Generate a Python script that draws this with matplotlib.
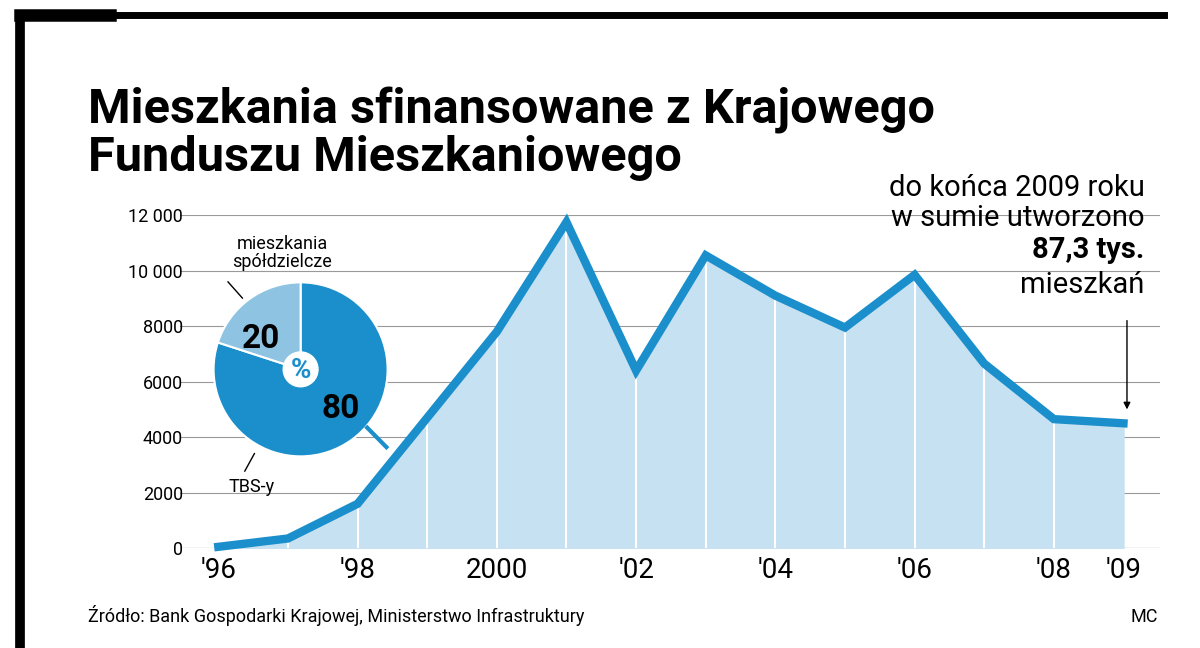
import matplotlib.pyplot as plt
from matplotlib.lines import Line2D

years = [1996, 1997, 1998, 1999, 2000, 2001, 2002, 2003, 2004, 2005, 2006, 2007, 2008, 2009]
flats = [50, 350, 1600, 4700, 7800, 11750, 6400, 10550, 9100, 7950, 9850, 6650, 4650, 4500]
tick_pos = [1996, 1998, 2000, 2002, 2004, 2006, 2008, 2009]
tick_lab = ["'96", "'98", "2000", "'02", "'04", "'06", "'08", "'09"]
y_ticks = [0, 2000, 4000, 6000, 8000, 10000, 12000]
y_labels = ["0", "2000", "4000", "6000", "8000", "10 000", "12 000"]
pie_vals = [80, 20]

LINE = "#1b8fcc"
FILL = "#c6e1f1"
DARK = "#1b8fcc"
LIGHT = "#8ec3e1"

fig = plt.figure(figsize=(12, 6.48), dpi=100)
fig.patch.set_facecolor("white")

# frame lines
fig.add_artist(Line2D([0.017, 0.97], [0.977, 0.977], color="black", lw=5))
fig.add_artist(Line2D([0.017, 0.092], [0.977, 0.977], color="black", lw=9))
fig.add_artist(Line2D([0.017, 0.017], [0.0, 0.977], color="black", lw=7))

fig.text(0.073, 0.72, "Mieszkania sfinansowane z Krajowego\nFunduszu Mieszkaniowego",
         fontsize=35, fontweight="heavy", family="Roboto",
         linespacing=1.05, va="bottom", ha="left")

ax = fig.add_axes([0.15, 0.154, 0.817, 0.514])
ax.set_xlim(1995.45, 2009.53)
ax.set_ylim(0, 12000)
for s in ax.spines.values():
    s.set_visible(False)
ax.set_yticks(y_ticks)
ax.set_yticklabels(y_labels, fontsize=13, family="Roboto")
ax.tick_params(axis="y", length=0, pad=-2)
ax.set_xticks(tick_pos)
ax.set_xticklabels(tick_lab, fontsize=20, family="Roboto")
ax.tick_params(axis="x", length=0, pad=6)
ax.grid(axis="y", color="#999999", lw=0.8)
ax.set_axisbelow(True)

ax.fill_between(years, flats, color=FILL, zorder=2)
for x, v in zip(years[1:-1], flats[1:-1]):
    ax.plot([x, x], [0, v], color="white", lw=1.5, zorder=3)
ax.plot(years, flats, color=LINE, lw=6, zorder=4, solid_joinstyle="miter",
        clip_on=False)
ax.axhline(0, color="#999999", lw=0.8, zorder=1)

ax.text(2009.3, 13500, "do końca 2009 roku\nw sumie utworzono", ha="right", va="top",
        fontsize=21, family="Roboto", linespacing=1.1)
ax.text(2009.3, 11250, "87,3 tys.", ha="right", va="top", fontsize=21,
        fontweight="bold", family="Roboto")
ax.text(2009.3, 10000, "mieszkań", ha="right", va="top", fontsize=21, family="Roboto")
ax.annotate("", xy=(2009.05, 4900), xytext=(2009.05, 8300),
            arrowprops=dict(arrowstyle="-|>", color="black", lw=1))

fig.text(0.073, 0.04, "Źródło: Bank Gospodarki Krajowej, Ministerstwo Infrastruktury",
         fontsize=13, family="Roboto")
fig.text(0.965, 0.04, "MC", fontsize=13, family="Roboto", ha="right")

# pie inset
pax = fig.add_axes([0.178, 0.295, 0.145, 0.27])
pax.pie(pie_vals, colors=[DARK, LIGHT], startangle=90, counterclock=False,
        radius=1.2, wedgeprops=dict(edgecolor="white", lw=1.5))
pax.add_patch(plt.Circle((0, 0), 0.24, color="white", zorder=5))
pax.text(0, -0.02, "%", ha="center", va="center", fontsize=20, fontweight="bold",
         family="Roboto", color=DARK, zorder=6)
pax.text(-0.55, 0.42, "20", ha="center", va="center", fontsize=24,
         fontweight="heavy", family="Roboto")
pax.text(0.55, -0.55, "80", ha="center", va="center", fontsize=24,
         fontweight="heavy", family="Roboto")
pax.set_xlim(-1.2, 1.2)
pax.set_ylim(-1.2, 1.2)
pax.set_aspect("equal")

fig.text(0.235, 0.61, "mieszkania\nspółdzielcze", ha="center", va="center",
         fontsize=13, family="Roboto", linespacing=1.0)
fig.text(0.21, 0.248, "TBS-y", ha="center", va="center", fontsize=13, family="Roboto")
fig.add_artist(Line2D([0.190, 0.202], [0.565, 0.54], color="black", lw=1))
fig.add_artist(Line2D([0.204, 0.212], [0.273, 0.3], color="black", lw=1))
fig.add_artist(Line2D([0.306, 0.322], [0.34, 0.31], color=LINE, lw=3))

fig.savefig("out.png", dpi=100)
